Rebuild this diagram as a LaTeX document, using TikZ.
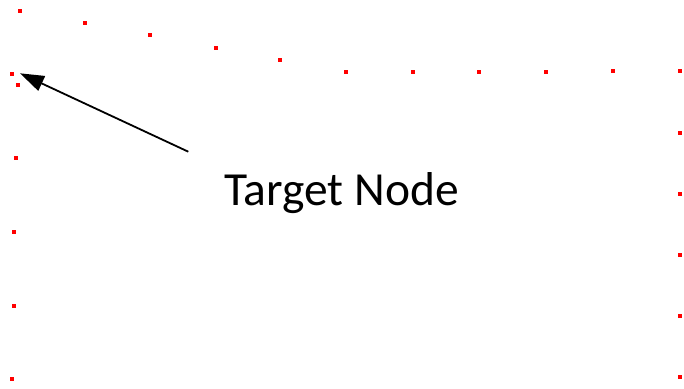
\documentclass[tikz,border=0pt]{standalone}
\usepackage{fontspec}
\setmainfont{Carlito}
\usetikzlibrary{arrows.meta}
\begin{document}
\begin{tikzpicture}[x=1pt,y=-1pt,
  dotmark/.style={fill=red,draw=none,minimum size=4pt,inner sep=0pt,outer sep=0pt,rectangle},
  pointer/.style={line width=1.8pt,-{Triangle[length=24pt,width=16pt]}}]
\useasboundingbox (0,0) rectangle (684,388);
% top diagonal and top row
\foreach \x/\y [count=\i] in {19.7/10.7,85.3/23.3,150/35,215.7/47.7,280.3/60.3,346/72,412.7/72,479/72,546.3/72,613/71,680.3/71}
  \node[dotmark] (t\i) at (\x,\y) {};
% right column
\foreach \y [count=\i] in {132.7,194,254.7,316,377.3}
  \node[dotmark] (r\i) at (680.3,\y) {};
% left column
\foreach \x/\y [count=\i] in {12/73.7,18/84.7,16/158,14.3/232,13.7/306,12/379.3}
  \node[dotmark] (l\i) at (\x,\y) {};
\node[anchor=base,font=\fontsize{47.5}{54}\selectfont,inner sep=0pt] (label) at (341.5,205) {Target Node};
\coordinate (tail) at (188.3,151.7);
\coordinate (tip) at (20,73.3);
\draw[pointer] (tail) -- (tip);
\end{tikzpicture}
\end{document}
